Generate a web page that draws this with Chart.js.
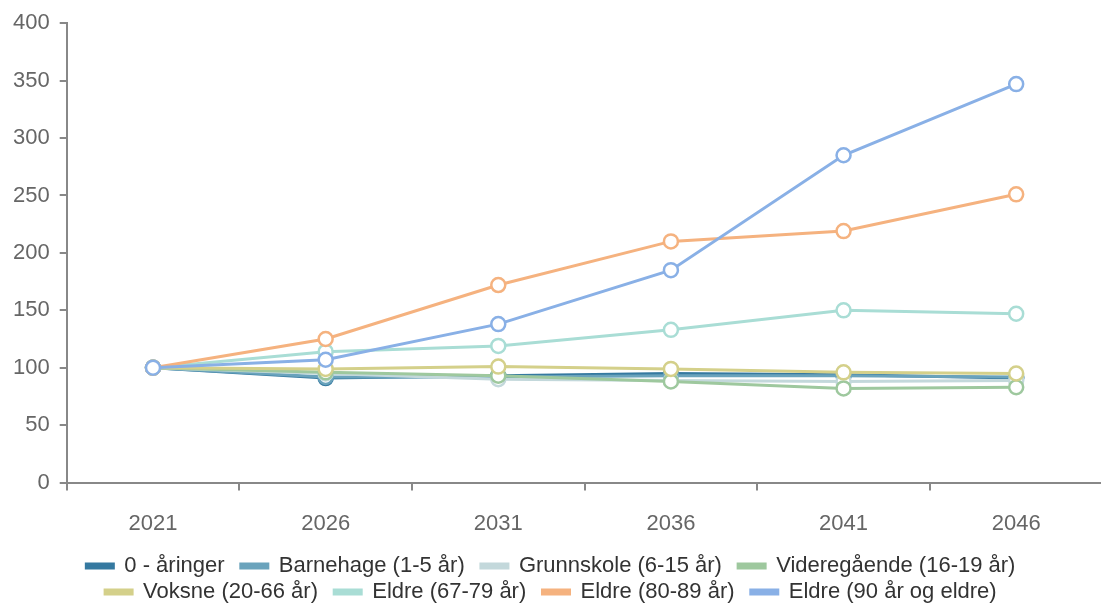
<!DOCTYPE html>
<html>
<head>
<meta charset="utf-8">
<script src="https://cdn.jsdelivr.net/npm/chart.js@4/dist/chart.umd.min.js"></script>
<style>
  html, body { margin: 0; padding: 0; background: #fff; overflow: hidden; }
  #wrap { width: 1112px; height: 603px; position: relative; }
</style>
</head>
<body>
<div id="wrap"><canvas id="myChart"></canvas></div>
<script>
// years on the x axis
var years = ["2021", "2026", "2031", "2036", "2041", "2046"];

// index values per age group (2021 = 100)
var nullAaringer = [100, 91, 93, 95, 94, 91];
var barnehage = [100, 92, 92, 93, 93, 92];
var grunnskole = [100, 95, 90, 89, 88, 89];
var videregaaende = [100, 96, 93, 88, 82, 83];
var voksne = [100, 99, 101, 99, 96, 95];
var eldre6779 = [100, 114, 119, 133, 150, 147];
var eldre8089 = [100, 125, 172, 210, 219, 251];
var eldre90 = [100, 107, 138, 185, 285, 347];

var names = ["0 - åringer", "Barnehage (1-5 år)", "Grunnskole (6-15 år)", "Videregående (16-19 år)",
             "Voksne (20-66 år)", "Eldre (67-79 år)", "Eldre (80-89 år)", "Eldre (90 år og eldre)"];
var series = [nullAaringer, barnehage, grunnskole, videregaaende, voksne, eldre6779, eldre8089, eldre90];
var colors = ["#3579a0", "#6aa3bc", "#c3d8db", "#9ec89e", "#d4d08a", "#a9ddd5", "#f5b27f", "#89b0e6"];

var font = "Liberation Sans, Arial, sans-serif";

var datasets = [];
for (var i = 0; i < series.length; i++) {
    datasets.push({
        label: names[i],
        data: series[i],
        borderColor: colors[i],
        backgroundColor: colors[i],
        pointBackgroundColor: "#ffffff",
        pointBorderColor: colors[i],
        pointBorderWidth: 2.5,
        pointRadius: 7,
        borderWidth: 3,
        order: series.length - i, // later series on top
        tension: 0
    });
}

var ctx = document.getElementById("myChart");
var chart = new Chart(ctx, {
    type: "line",
    data: { labels: years, datasets: datasets },
    options: {
        responsive: true,
        maintainAspectRatio: false,
        animation: false,
        layout: { padding: { top: 22, right: 1, left: 3, bottom: -10 } },
        plugins: {
            tooltip: { enabled: false },
            legend: {
                position: "bottom",
                labels: {
                    color: "#333",
                    font: { family: font, size: 22 },
                    boxWidth: 27,
                    boxHeight: 4,
                    padding: 4,
                    sort: function(a, b) { return a.datasetIndex - b.datasetIndex; },
                    generateLabels: function(c) {
                        var items = Chart.defaults.plugins.legend.labels.generateLabels(c);
                        items.forEach(function(it) { it.text = it.text + "  "; });
                        return items;
                    }
                }
            }
        },
        scales: {
            x: {
                offset: true,
                grid: { display: true, drawOnChartArea: false, offset: true, tickLength: 8, color: "#888", lineWidth: 2 },
                border: { color: "#888", width: 2 },
                ticks: { color: "#666", padding: 20, font: { family: font, size: 22 } },
                afterFit: function(scale) { scale.height -= 6; }
            },
            y: {
                min: 0,
                max: 400,
                grid: { display: true, drawOnChartArea: false, tickLength: 7, color: "#888", lineWidth: 2 },
                border: { color: "#888", width: 2 },
                ticks: { stepSize: 50, color: "#666", padding: 10, font: { family: font, size: 22 } }
            }
        }
    }
});
</script>
</body>
</html>
